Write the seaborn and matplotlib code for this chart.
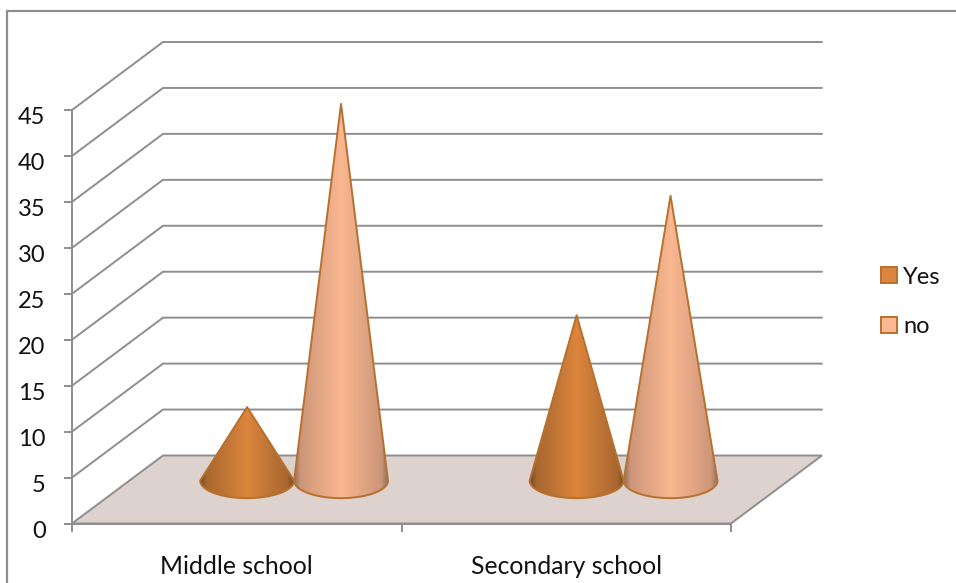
import matplotlib
matplotlib.use("Agg")
import matplotlib.pyplot as plt
from matplotlib.lines import Line2D
from matplotlib.patches import Patch, Polygon
from matplotlib.transforms import ScaledTranslation
import numpy as np
import pandas as pd
import seaborn as sns

schools = ["Middle school", "Secondary school"]
answers = ["Yes", "no"]
yes_values = [8, 18]
no_values = [41, 31]
value_ticks = [0, 5, 10, 15, 20, 25, 30, 35, 40, 45]

W, H = 956, 583
GRAY = "#8E8E8E"
FLOOR = "#DDD2CE"
OUTLINE = "#B8702D"
TEXT = "#111111"
RAMPS = {
    "Yes": ["#DB853D", "#A8672F", "#6E4A2C"],
    "no": ["#FAB791", "#CC9678", "#8A7263"],
}
FILLS = {"Yes": "#DB853D", "no": "#FAB791"}

sns.set_theme(style="white")
plt.rcParams["font.family"] = ["Lato", "DejaVu Sans"]

frame = pd.DataFrame({
    "school": schools * 2,
    "answer": [answers[0]] * 2 + [answers[1]] * 2,
    "value": yes_values + no_values,
})

fig = plt.figure(figsize=(W / 100, H / 100), dpi=100, facecolor="white")
ax = fig.add_axes([72 / W, 1 - 523.5 / H, 659 / W, 413.5 / H])
ax.patch.set_alpha(0)

# The bars give the categorical layout; cones are built on their positions.
sns.barplot(data=frame, x="school", y="value", hue="answer", hue_order=answers,
            width=0.57, gap=0, palette=FILLS, legend=False, ax=ax)
xlim, ylim = (-0.5, 1.5), (0, 45)
ax.set_xlim(xlim)
ax.set_ylim(ylim)

# Oblique depth of the chart box, in data units per unit of depth.
DX = 91 / 329.5
DY = 68 / (413.5 / 45)


def project(x, v, depth):
    return x + depth * DX, v + depth * DY


# Floor and walls
floor = [project(-0.5, 0, 0), project(1.5, 0, 0), project(1.5, 0, 1), project(-0.5, 0, 1)]
ax.add_patch(Polygon(floor, closed=True, fc=FLOOR, ec=GRAY, lw=1.4, clip_on=False, zorder=1))
for v in value_ticks[1:]:
    pts = [project(-0.5, v, 0), project(-0.5, v, 1), project(1.5, v, 1)]
    ax.plot(*zip(*pts), color=GRAY, lw=1.4, clip_on=False, zorder=1, solid_joinstyle="miter")

# Cones standing on the floor at mid depth
CONE_DEPTH = 0.63
RIM = 17.5 / (413.5 / 45)
theta = np.linspace(0, np.pi, 80)
ramp_pos = np.interp(np.abs(np.linspace(-1, 1, 400)), [0, 0.86, 1], [0, 0.5, 1])
for answer, bars in zip(answers, ax.containers):
    cmap = sns.blend_palette(RAMPS[answer], as_cmap=True)
    for bar in bars:
        x0 = bar.get_x() + bar.get_width() / 2
        r = bar.get_width() / 2
        cx, base = project(x0, 0, CONE_DEPTH)
        apex = base + bar.get_height()
        rim_x = cx + r * np.cos(theta)
        rim_y = base - RIM * np.sin(theta)
        outline = np.column_stack([np.r_[cx, rim_x], np.r_[apex, rim_y]])
        cone = Polygon(outline, closed=True, fc="none", ec=OUTLINE, lw=1.4,
                       joinstyle="round", zorder=4, clip_on=False)
        ax.add_patch(cone)
        img = ax.imshow(ramp_pos[None, :], cmap=cmap, vmin=0, vmax=1, aspect="auto",
                        extent=(cx - r, cx + r, base - RIM, apex), zorder=3,
                        interpolation="bilinear")
        img.set_clip_path(Polygon(outline, closed=True, transform=ax.transData))
    for bar in bars:
        bar.set_visible(False)
ax.set_xlim(xlim)
ax.set_ylim(ylim)

# Axes
sns.despine(ax=ax, top=True, right=True)
for side in ("left", "bottom"):
    ax.spines[side].set_color(GRAY)
    ax.spines[side].set_linewidth(1.4)
    ax.spines[side].set_zorder(2)
ax.set_xlabel("")
ax.set_ylabel("")
ax.set_yticks(value_ticks)
ax.set_xticks([-0.5, 0.5, 1.5])
ax.set_xticklabels([])
ax.set_xticks([0, 1], labels=schools, minor=True)
ax.tick_params(axis="y", which="major", left=True, length=6, width=1.4, color=GRAY,
               pad=13, labelsize=17, labelcolor=TEXT)
ax.tick_params(axis="x", which="major", bottom=True, length=6, width=1.4, color=GRAY)
ax.tick_params(axis="x", which="minor", bottom=False, length=0, pad=22.5,
               labelsize=17.8, labelcolor=TEXT)

# Value labels sit a little below their ticks
drop = ScaledTranslation(0, -5.5 / 100, fig.dpi_scale_trans)
for label in ax.get_yticklabels():
    label.set_transform(label.get_transform() + drop)

# Legend
handles = [Patch(fc=FILLS[a], ec=OUTLINE, lw=1.4, label=a) for a in answers]
ax.legend(handles=handles, frameon=False, loc="center left", fontsize=17,
          bbox_to_anchor=(881 / W, 1 - 302 / H), bbox_transform=fig.transFigure,
          handlelength=0.68, handleheight=0.68, handletextpad=0.25,
          labelspacing=1.22, borderpad=0, borderaxespad=0, labelcolor=TEXT)

# Chart area border: top and left edges run off the canvas
fig.add_artist(Line2D([7 / W, 7 / W, 1], [0, 1 - 11 / H, 1 - 11 / H], transform=fig.transFigure,
                      color=GRAY, lw=1.6, solid_joinstyle="miter"))

fig.savefig("out.png", dpi=100, facecolor="white")
